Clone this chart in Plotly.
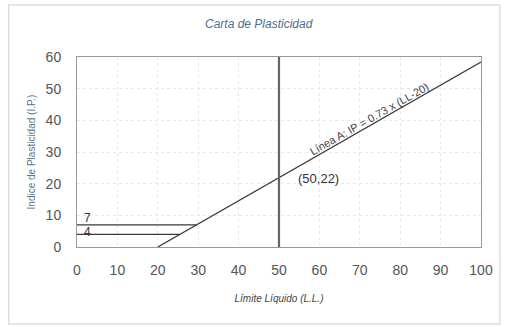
import plotly.graph_objects as go

# A-line: IP = 0.73 (LL - 20)
a_line_x = [20, 100]
a_line_y = [0.73 * (v - 20) for v in a_line_x]
# vertical LL = 50
v_line_x = [50, 50]
v_line_y = [0, 60]
# horizontal lines IP = 7 and IP = 4
h7_x = [0, 29.6]
h7_y = [7, 7]
h4_x = [0, 25.5]
h4_y = [4, 4]

x_ticks = [0, 10, 20, 30, 40, 50, 60, 70, 80, 90, 100]
y_ticks = [0, 10, 20, 30, 40, 50, 60]

fig = go.Figure()
line_col = "#3a3a3a"
fig.add_trace(go.Scatter(x=a_line_x, y=a_line_y, mode="lines", line=dict(color=line_col, width=1.3), showlegend=False))
fig.add_trace(go.Scatter(x=v_line_x, y=v_line_y, mode="lines", line=dict(color="#666666", width=2.2), showlegend=False))
fig.add_trace(go.Scatter(x=h7_x, y=h7_y, mode="lines", line=dict(color=line_col, width=1.3), showlegend=False))
fig.add_trace(go.Scatter(x=h4_x, y=h4_y, mode="lines", line=dict(color=line_col, width=1.3), showlegend=False))

font_txt = "Liberation Sans, Arial, sans-serif"
fig.add_annotation(x=2.5, y=9.2, text="7", showarrow=False, font=dict(size=12, color="#333", family=font_txt))
fig.add_annotation(x=2.5, y=4.6, text="4", showarrow=False, font=dict(size=12, color="#333", family=font_txt))
fig.add_annotation(x=59.8, y=21.5, text="(50,22)", showarrow=False, font=dict(size=13, color="#333", family=font_txt))
fig.add_annotation(x=72.3, y=40.4, text="Línea A: IP = 0.73 x (LL-20)", textangle=-29.6, showarrow=False,
                   font=dict(size=11, color="#444", family=font_txt))

fig.add_annotation(xref="paper", yref="paper", x=(261 - 77) / 408, y=1 + (57 - 24) / 190, yanchor="middle",
                   text="<i>Carta de Plasticidad</i>", showarrow=False,
                   font=dict(size=12, color="#4d6f8f", family=font_txt))

axis_common = dict(showline=True, linecolor="#999", linewidth=1, mirror=True,
                   gridcolor="#e8e8e8", griddash="dot", zeroline=False,
                   tickfont=dict(size=14, color="#555", family=font_txt), ticks="")

fig.update_layout(
    width=505, height=327,
    margin=dict(l=77, r=20, t=57, b=80),
    paper_bgcolor="white", plot_bgcolor="white",
    xaxis=dict(range=[0, 100], tickvals=x_ticks, ticklabelstandoff=10,
               title=dict(text="<i>Límite Líquido (L.L.)</i>", font=dict(size=10, color="#444", family=font_txt), standoff=18),
               **axis_common),
    yaxis=dict(range=[0, 60], tickvals=y_ticks, ticklabelstandoff=12,
               title=dict(text="Indice de Plasticidad (I.P.)", font=dict(size=10, color="#5a7590", family=font_txt), standoff=8),
               **axis_common),
    shapes=[dict(type="rect", xref="paper", yref="paper",
                 x0=(8 - 77) / 408, x1=(504 - 77) / 408, y0=-(324 - 247) / 190, y1=1 + (57 - 5) / 190,
                 line=dict(color="#dddddd", width=1.5), layer="below")],
)

fig.write_html("out.html")
